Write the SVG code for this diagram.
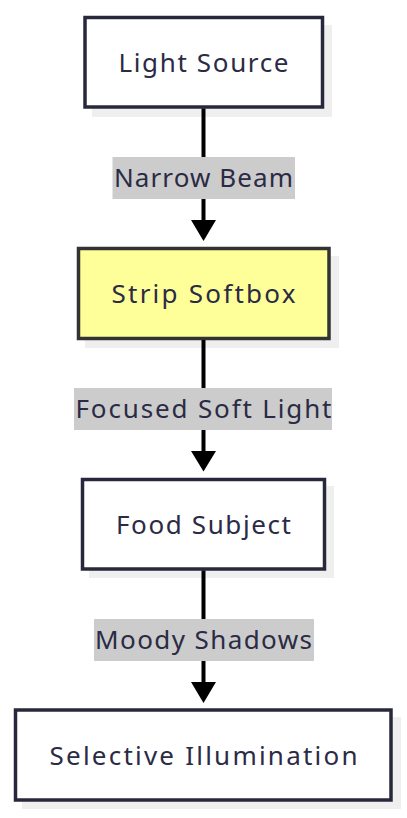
<svg xmlns="http://www.w3.org/2000/svg" width="407" height="818" viewBox="0 0 407 818">
<style>
.shadow{fill:#efefef;}
.node{fill:#ffffff;stroke:#28283c;stroke-width:3.5;}
.soft{fill:#ffff99;stroke:#333333;stroke-width:3.5;}
.txt{font-family:"Noto Sans","Open Sans",sans-serif;font-size:26px;fill:#2b2b45;text-anchor:middle;}
.edge{stroke:#000;stroke-width:4;fill:none;}
.lblbg{fill:#cccccc;}
.head{fill:#000;}
</style>
<rect width="407" height="818" fill="#ffffff"/>
<g id="node-light-source">
<rect class="shadow" x="92" y="25" width="240" height="92"/>
<rect class="node" x="85" y="17.5" width="237.5" height="89.5"/>
<text class="txt" x="203.5" y="72" textLength="170" lengthAdjust="spacing">Light Source</text>
</g>
<g id="node-strip-softbox">
<rect class="shadow" x="85" y="256" width="254" height="92"/>
<rect class="soft" x="78.5" y="248.5" width="250.5" height="90"/>
<text class="txt" x="203.5" y="303" textLength="184" lengthAdjust="spacing">Strip Softbox</text>
</g>
<g id="node-food-subject">
<rect class="shadow" x="89" y="486" width="245" height="92"/>
<rect class="node" x="82.5" y="479.5" width="242" height="89.5"/>
<text class="txt" x="203.5" y="533.5" textLength="175" lengthAdjust="spacing">Food Subject</text>
</g>
<g id="node-selective-illumination">
<rect class="shadow" x="22" y="717" width="379" height="92"/>
<rect class="node" x="15.5" y="710" width="375.5" height="90"/>
<text class="txt" x="203.5" y="764.5" textLength="308" lengthAdjust="spacing">Selective Illumination</text>
</g>
<g id="connectors">
<line class="edge" x1="203.5" y1="108.5" x2="203.5" y2="221"/>
<polygon class="head" points="191,220 216,220 203.5,241"/>
<rect class="lblbg" x="112.5" y="157" width="182.5" height="42"/>
<text class="txt" x="203.5" y="187" textLength="179" lengthAdjust="spacing">Narrow Beam</text>
<line class="edge" x1="203.5" y1="340" x2="203.5" y2="452"/>
<polygon class="head" points="191,451 216,451 203.5,471.5"/>
<rect class="lblbg" x="74" y="388" width="258" height="42"/>
<text class="txt" x="203.5" y="418" textLength="256" lengthAdjust="spacing">Focused Soft Light</text>
<line class="edge" x1="203.5" y1="570.5" x2="203.5" y2="683"/>
<polygon class="head" points="191,682 216,682 203.5,703"/>
<rect class="lblbg" x="94" y="619" width="220" height="42"/>
<text class="txt" x="203.5" y="649" textLength="217" lengthAdjust="spacing">Moody Shadows</text>
</g>
</svg>
